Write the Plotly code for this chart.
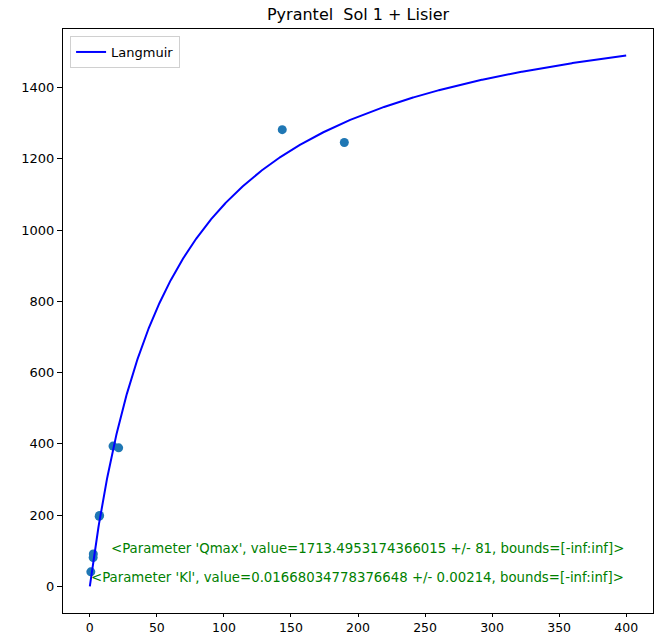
import numpy as np
import plotly.graph_objects as go

# Measured equilibrium data
c_eq = [0.75, 2.5, 2.6, 7.0, 7.3, 17.3, 21.5, 143.5, 189.8]
q_eq = [41, 81, 91, 197, 199, 394, 389, 1282, 1246]

# Fitted Langmuir parameters
q_max = 1713.4953174366015
k_l = 0.01668034778376648
q_max_err = "81"
k_l_err = "0.00214"

c_fit = np.linspace(0, 400, 1000)
q_fit = q_max * k_l * c_fit / (1 + k_l * c_fit)

x_ticks = [0, 50, 100, 150, 200, 250, 300, 350, 400]
y_ticks = [0, 200, 400, 600, 800, 1000, 1200, 1400]

fig = go.Figure()
fig.add_trace(go.Scatter(
    x=c_eq, y=q_eq, mode="markers",
    marker=dict(color="#1f77b4", size=9),
    showlegend=False,
))
fig.add_trace(go.Scatter(
    x=c_fit, y=q_fit, mode="lines",
    line=dict(color="blue", width=2),
    name="Langmuir",
))

green = "#008000"
fig.add_annotation(
    x=400, y=107, xref="x", yref="y", xanchor="right", yanchor="middle",
    text=f"&lt;Parameter 'Qmax', value={q_max!r} +/- {q_max_err}, bounds=[-inf:inf]&gt;",
    showarrow=False, font=dict(color=green, size=13.3, family="DejaVu Sans"),
)
fig.add_annotation(
    x=400, y=26, xref="x", yref="y", xanchor="right", yanchor="middle",
    text=f"&lt;Parameter 'Kl', value={k_l!r} +/- {k_l_err}, bounds=[-inf:inf]&gt;",
    showarrow=False, font=dict(color=green, size=13.3, family="DejaVu Sans"),
)

axis_common = dict(
    showgrid=False, zeroline=False, showline=True, linecolor="black",
    linewidth=1, mirror=True, ticks="outside", tickcolor="black",
    automargin=False,
)

fig.update_layout(
    width=657, height=637,
    margin=dict(l=63, r=4, t=29, b=24),
    paper_bgcolor="white", plot_bgcolor="white",
    font=dict(family="DejaVu Sans", color="black"),
    title=dict(text="Pyrantel  Sol 1 + Lisier", x=0.545, xanchor="center",
               y=0.977, yanchor="middle", font=dict(size=16)),
    xaxis=dict(range=[-20, 420], tickvals=x_ticks, ticklen=3,
               ticklabelstandoff=0, tickfont=dict(size=12.5, color="black"),
               **axis_common),
    yaxis=dict(range=[-74.5, 1564.5], tickvals=y_ticks, ticklen=5,
               tickfont=dict(size=13, color="black"), **axis_common),
    legend=dict(x=0.012, y=0.988, xanchor="left", yanchor="top",
                bordercolor="#d0d0d0", borderwidth=1, bgcolor="white",
                font=dict(size=13)),
)

fig.write_html("out.html")
